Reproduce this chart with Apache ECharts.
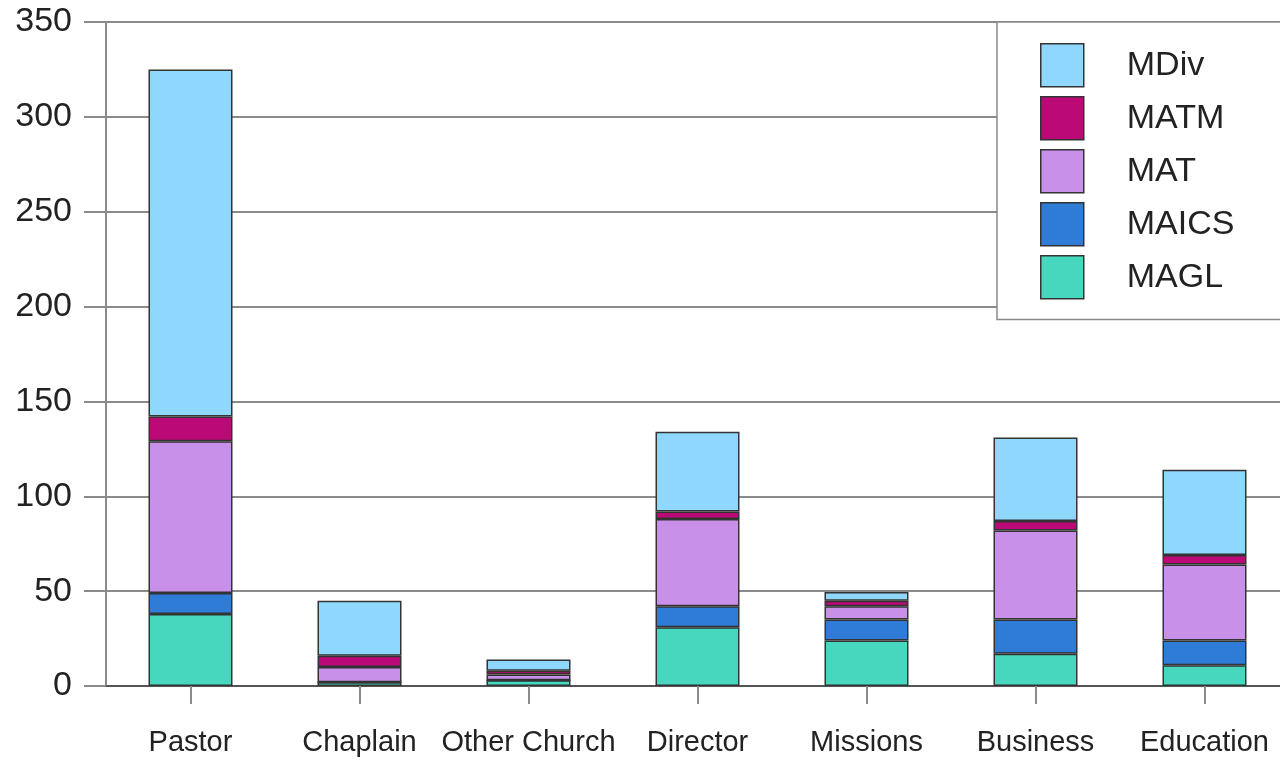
<!DOCTYPE html>
<html>
<head>
<meta charset="utf-8">
<script src="https://cdn.jsdelivr.net/npm/echarts@6/dist/echarts.min.js"></script>
<style>
html,body{margin:0;padding:0;background:#fff;}
#chart{width:1280px;height:760px;}
</style>
</head>
<body>
<div id="chart"></div>
<script>
const categories = ['Pastor', 'Chaplain', 'Other Church', 'Director', 'Missions', 'Business', 'Education'];
const MAGL  = [38, 2, 3, 31, 24, 17, 11];
const MAICS = [11, 0, 0, 11, 11, 18, 13];
const MAT   = [80, 8, 3, 46, 7, 47, 40];
const MATM  = [13, 6, 2, 4, 3, 5, 5];
const MDiv  = [183, 29, 6, 42, 4.5, 44, 45];
const yTicks = { min: 0, max: 350, interval: 50 };

const colors = {
  MDiv: '#8fd7fc',
  MATM: '#bb0a78',
  MAT: '#c990e9',
  MAICS: '#2e7cd6',
  MAGL: '#47d7be'
};
const seriesData = [
  ['MAGL', MAGL], ['MAICS', MAICS], ['MAT', MAT], ['MATM', MATM], ['MDiv', MDiv]
];

const chart = echarts.init(document.getElementById('chart'));
chart.setOption({
  animation: false,
  backgroundColor: '#fff',
  grid: { left: 106, top: 22, width: 1183, bottom: 74, containLabel: false, outerBoundsMode: 'none' },
  legend: {
    orient: 'vertical',
    left: 997, top: 22,
    data: ['MDiv', 'MATM', 'MAT', 'MAICS', 'MAGL'],
    itemWidth: 43, itemHeight: 43, itemGap: 8.5,
    padding: [21, 80, 20, 43],
    backgroundColor: '#fff',
    borderColor: '#8a8a8a', borderWidth: 1.5,
    icon: 'rect',
    itemStyle: { borderColor: '#333', borderWidth: 1.5 },
    textStyle: { fontFamily: 'Liberation Sans', fontSize: 34, color: '#222', padding: [0, 0, 0, 38] }
  },
  xAxis: {
    type: 'category',
    data: categories,
    axisLine: { lineStyle: { color: '#555', width: 2 } },
    axisTick: { show: true, alignWithLabel: true, length: 18, lineStyle: { color: '#8a8a8a', width: 2 } },
    axisLabel: { interval: 0, fontFamily: 'Liberation Sans', fontSize: 29, color: '#222', margin: 42 },
    splitLine: { show: false }
  },
  yAxis: {
    type: 'value',
    min: yTicks.min, max: yTicks.max, interval: yTicks.interval,
    axisLine: { show: true, lineStyle: { color: '#8a8a8a', width: 2 } },
    axisTick: { show: true, length: 22, lineStyle: { color: '#8a8a8a', width: 2 } },
    axisLabel: { fontFamily: 'Liberation Sans', fontSize: 34, color: '#222', margin: 34, padding: [6, 0, 0, 0] },
    splitLine: { show: true, lineStyle: { color: '#8a8a8a', width: 2 } }
  },
  series: seriesData.map(([name, vals]) => ({
    name: name,
    type: 'bar',
    stack: 'total',
    barWidth: 84,
    data: vals,
    itemStyle: { color: colors[name], borderColor: '#333', borderWidth: 1.5 }
  }))
});
</script>
</body>
</html>
